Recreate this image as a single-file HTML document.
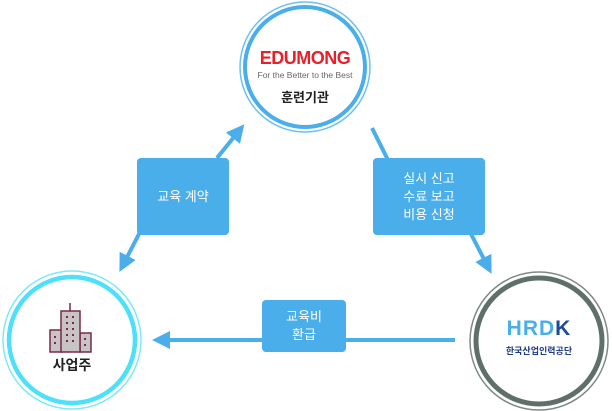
<!DOCTYPE html><html><head><meta charset="utf-8"><style>
body{margin:0;width:612px;height:411px;background:#fff;overflow:hidden;position:relative;font-family:"Liberation Sans","Noto Sans CJK KR",sans-serif}
.box{position:absolute;background:#4aaeea;border-radius:4px;color:#fff;font-size:13px;line-height:18px;display:flex;align-items:center;justify-content:center;text-align:center}
.t{position:absolute;text-align:center}
</style></head><body>
<svg width="612" height="411" style="position:absolute;left:0;top:0">
<defs><marker id="a" markerWidth="4.5" markerHeight="4.5" refX="2" refY="2.25" orient="auto"><path d="M0,0 L4.5,2.25 L0,4.5 z" fill="#4aaeea"/></marker></defs>
<g stroke="#4aaeea" stroke-width="4" fill="none">
<line x1="217" y1="158" x2="238" y2="132" marker-end="url(#a)"/>
<line x1="140" y1="232" x2="124" y2="263" marker-end="url(#a)"/>
<line x1="372" y1="128" x2="388" y2="160"/>
<line x1="470" y1="232" x2="487" y2="265" marker-end="url(#a)"/>
<line x1="455" y1="340" x2="162" y2="340" marker-end="url(#a)"/>
</g>
<circle cx="305" cy="67" r="65" fill="#fff" stroke="#6fc0f0" stroke-width="1.5"/>
<circle cx="305" cy="67" r="60" fill="#fff" stroke="#4aaeea" stroke-width="4"/>
<circle cx="72" cy="340" r="69" fill="#fff" stroke="#7de8fa" stroke-width="1.5"/>
<circle cx="72" cy="340" r="63" fill="#fff" stroke="#4de0f8" stroke-width="4.5"/>
<circle cx="539" cy="341" r="69" fill="#fff" stroke="#7d8a86" stroke-width="1.5"/>
<circle cx="539" cy="341" r="63" fill="#fff" stroke="#5f706b" stroke-width="5"/>
<g stroke="#7a2a48" stroke-width="1.5" fill="#c8c4c6">
<rect x="50" y="330" width="12" height="22"/><rect x="80" y="333" width="11" height="19"/><rect x="61" y="311" width="19" height="41"/>
</g>
<g fill="#7a2a48">
<rect x="66" y="316" width="2" height="2"/><rect x="72" y="316" width="2" height="2"/>
<rect x="66" y="322" width="2" height="2"/><rect x="72" y="322" width="2" height="2"/>
<rect x="66" y="328" width="2" height="2"/><rect x="72" y="328" width="2" height="2"/>
<rect x="66" y="334" width="2" height="2"/><rect x="72" y="334" width="2" height="2"/>
<rect x="66" y="340" width="2" height="2"/><rect x="72" y="340" width="2" height="2"/>
<rect x="54" y="336" width="2" height="2"/><rect x="54" y="342" width="2" height="2"/>
<rect x="84" y="338" width="2" height="2"/><rect x="84" y="344" width="2" height="2"/>
</g>
<line x1="70" y1="303" x2="70" y2="311" stroke="#7a2a48" stroke-width="1.5"/>
</svg>
<div class="t" style="left:240px;top:48px;width:130px;color:#e8202a;font-weight:bold;font-size:18px;letter-spacing:-0.5px">EDUMONG</div>
<div class="t" style="left:240px;top:70px;width:130px;color:#666;font-size:8.5px">For the Better to the Best</div>
<div class="t" style="left:240px;top:87px;width:130px;color:#222;font-size:13px;font-weight:bold">훈련기관</div>
<div class="t" style="left:22px;top:355px;width:100px;color:#222;font-size:14px;font-weight:bold">사업주</div>
<div class="t" style="left:489px;top:317px;width:100px;font-size:21px;font-weight:bold;letter-spacing:1px"><span style="color:#4aaeea">HRD</span><span style="color:#1e4a9a">K</span></div>
<div class="t" style="left:489px;top:344px;width:100px;color:#1e3a8a;font-size:9px;font-weight:bold">한국산업인력공단</div>
<div class="box" style="left:137px;top:158px;width:92px;height:77px">교육 계약</div>
<div class="box" style="left:373px;top:158px;width:112px;height:77px">실시 신고<br>수료 보고<br>비용 신청</div>
<div class="box" style="left:262px;top:300px;width:84px;height:52px">교육비<br>환급</div>
</body></html>
